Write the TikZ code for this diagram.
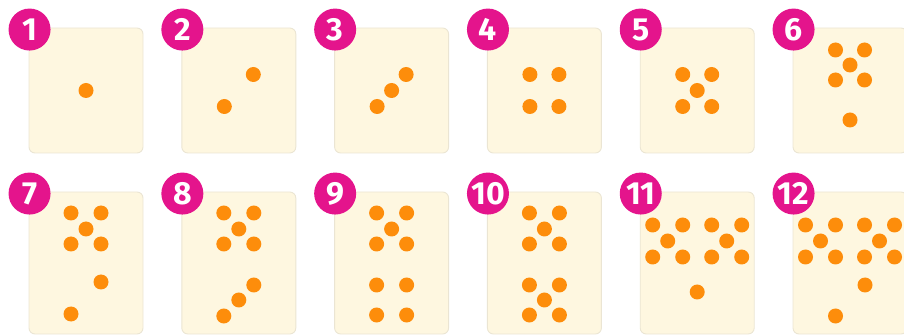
\documentclass[tikz,border=0pt]{standalone}
\usepackage{fontspec}
\setmainfont{Fira Sans}
\usepackage{tikz}
\usetikzlibrary{positioning}

\definecolor{cardfill}{HTML}{FEF7E0}
\definecolor{cardline}{HTML}{EBE5D3}
\definecolor{pipcol}{HTML}{FD8D0B}
\definecolor{badgecol}{HTML}{E4148C}

% pips of one card, offsets from its centre in px
\newcommand\pips[2]{\foreach \dx/\dy in {#2} \fill[pip] ([shift={(\dx,\dy)}]#1.center) circle (7.5);}

\begin{document}
\begin{tikzpicture}[x=1pt, y=-1pt,
  card/.style={draw=cardline, fill=cardfill, line width=0.9pt, rounded corners=6pt,
    minimum width=114pt, inner sep=0pt},
  toprow/.style={card, minimum height=125pt},
  botrow/.style={card, minimum height=142pt},
  badge/.style={circle, fill=badgecol, text=white, minimum size=42pt, inner sep=0pt,
    font=\fontsize{32}{32}\selectfont\bfseries},
  pip/.style={fill=pipcol}]
\useasboundingbox (0,0) rectangle (904,336);
\def\px{152.8}
% the twelve cards, six per row
\foreach \i in {1,...,6} {
  \node[toprow] (card\i) at ({86+(\i-1)*\px},90.5) {};
}
\foreach \i [evaluate=\i as \n using int(\i+6)] in {1,...,6} {
  \node[botrow] (card\n) at ({86+(\i-1)*\px},263) {};
}
\foreach \i in {1,...,12}
  \node[badge] (badge\i) at ([shift={(1,2)}]card\i.north west) {\i};
% pips
\pips{card1}{0/0}
\pips{card2}{14.5/-16, -14.5/16}
\pips{card3}{14.5/-16, 0/0, -14.5/16}
\pips{card4}{-14.5/-16, 14.5/-16, -14.5/16, 14.5/16}
\pips{card5}{-14.5/-16, 14.5/-16, 0/0, -14.5/16, 14.5/16}
\pips{card6}{-14.5/-40.5, 14.5/-40.5, 0/-25.5, -14.5/-10.5, 14.5/-10.5, 0/29.5}
\pips{card7}{-15/-50, 15/-50, 0/-34, -15/-19, 15/-19, 15/19, -15/51}
\pips{card8}{-15/-50, 15/-50, 0/-34, -15/-19, 15/-19, 15/22, 0/37, -15/53}
\pips{card9}{-15/-50, 15/-50, 0/-34, -15/-19, 15/-19, -15/22, 15/22, -15/52, 15/52}
\pips{card10}{-15/-50, 15/-50, 0/-34, -15/-19, 15/-19, -15/22, 15/22, 0/37, -15/52, 15/52}
\pips{card11}{-44.5/-38, -14.5/-38, -29.5/-22, -44.5/-6, -14.5/-6,
  14.5/-38, 44.5/-38, 29.5/-22, 14.5/-6, 44.5/-6, 0/29}
\pips{card12}{-44.5/-38, -14.5/-38, -29.5/-22, -44.5/-6, -14.5/-6,
  14.5/-38, 44.5/-38, 29.5/-22, 14.5/-6, 44.5/-6, 15/22, -14.5/53}
\end{tikzpicture}
\end{document}
